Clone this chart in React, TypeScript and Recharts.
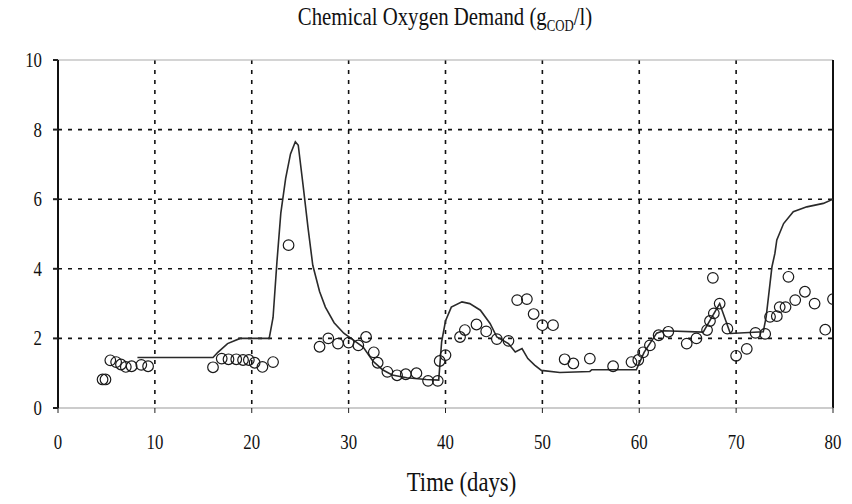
import React from "react";
import {
  ComposedChart,
  Line,
  Scatter,
  XAxis,
  YAxis,
  CartesianGrid,
  ReferenceLine,
} from "recharts";

// Measured COD in the effluent (days, g COD / l)
const measuredDays = [
  4.6, 4.9, 5.4, 6.0, 6.5, 7.0, 7.6, 8.6, 9.3,
  16.0, 16.9, 17.6, 18.4, 19.1, 19.7, 20.3, 21.1, 22.2,
  23.8,
  27.0, 27.9, 28.9, 30.0, 31.0, 31.8, 32.6, 33.0, 34.0, 35.0, 35.9, 37.0, 38.2, 39.2, 39.4, 40.0,
  41.5, 42.0, 43.2, 44.2, 45.3, 46.5, 47.4, 48.4, 49.1, 50.0, 51.1, 52.3, 53.2, 54.9, 57.3,
  59.2, 59.9, 60.4, 61.1, 62.0, 63.0, 64.9, 65.9, 67.0, 67.3, 67.7, 67.6, 68.3, 69.1,
  70.0, 71.1, 72.0, 73.0, 73.5, 74.2, 74.5, 75.1, 75.4, 76.1, 77.1, 78.1, 79.2, 80.0,
];
const measuredCOD = [
  0.82, 0.82, 1.37, 1.32, 1.25, 1.18, 1.2, 1.24, 1.2,
  1.17, 1.42, 1.4, 1.4, 1.38, 1.38, 1.3, 1.18, 1.32,
  4.68,
  1.76, 2.0, 1.85, 1.88, 1.8, 2.04, 1.6, 1.3, 1.04, 0.94, 0.97, 1.0, 0.78, 0.78, 1.35, 1.52,
  2.04, 2.24, 2.4, 2.2, 1.98, 1.93, 3.1, 3.13, 2.7, 2.38, 2.38, 1.4, 1.28, 1.42, 1.2,
  1.32, 1.38, 1.6, 1.8, 2.09, 2.19, 1.85, 2.0, 2.24, 2.5, 2.72, 3.74, 3.0, 2.28,
  1.5, 1.7, 2.16, 2.13, 2.62, 2.64, 2.9, 2.9, 3.77, 3.1, 3.34, 3.0, 2.25, 3.13,
];

// Simulated COD (model curve)
const modelDays = [
  8.2, 10, 16, 16.5, 17.5, 18.8, 21.8, 22.2, 22.6, 23.0, 23.5, 24.0, 24.5, 24.8, 25.3, 25.8,
  26.3, 27.0, 27.6, 28.5, 29.5, 30.5, 31.5, 32.5, 33.5, 34.5, 36, 38, 39.3, 39.6, 40.0, 40.6,
  41.7, 42.5, 43.6, 44.6, 45.3, 46.5, 47.2, 47.9, 48.5, 49.2, 49.9, 51.8, 54.9, 55.1, 59.7,
  60.5, 61.8, 62.5, 66.6, 68.3, 69.4, 72.8, 73.1, 73.3, 73.5, 73.7, 74.0, 74.2, 74.9, 75.9,
  77.3, 79.0, 80.0,
];
const modelCOD = [
  1.45, 1.45, 1.45, 1.6, 1.85, 2.0, 2.0, 2.6, 4.2, 5.6, 6.6, 7.3, 7.65, 7.55, 6.4, 5.2,
  4.1, 3.35, 2.9, 2.45, 2.15, 1.95, 1.75, 1.35, 1.1, 0.95, 0.87, 0.82, 0.8, 1.9, 2.5, 2.9,
  3.05, 3.0, 2.81, 2.43, 2.04, 1.85, 1.61, 1.71, 1.42, 1.23, 1.08, 1.02, 1.05, 1.1, 1.1,
  1.6, 2.15, 2.22, 2.18, 3.0, 2.14, 2.19, 2.62, 3.1, 3.58, 4.06, 4.44, 4.83, 5.3, 5.64,
  5.78, 5.88, 6.0,
];

const xTicks = [0, 10, 20, 30, 40, 50, 60, 70, 80];
const yTicks = [0, 2, 4, 6, 8, 10];
const gridX = [10, 20, 30, 40, 50, 60, 70];
const gridY = [2, 4, 6, 8];

const measured = measuredDays.map((d, i) => ({ day: d, cod: measuredCOD[i] }));
const model = modelDays.map((d, i) => ({ day: d, cod: modelCOD[i] }));

const serif = "Liberation Serif";
const SQUEEZE = 0.8;

const OpenCircle = (props: any) => {
  const { cx, cy } = props;
  if (cx == null || cy == null) return null;
  return <circle cx={cx} cy={cy} r={5.3} fill="none" stroke="#1a1a1a" strokeWidth={1.2} />;
};

// Tick labels in a narrow serif face
const XTick = (props: any) => {
  const { x, y, payload } = props;
  return (
    <text
      transform={`translate(${x},${y + 34}) scale(${SQUEEZE},1)`}
      textAnchor="middle"
      fontFamily={serif}
      fontSize={21}
      fill="#111"
    >
      {payload.value}
    </text>
  );
};

const YTick = (props: any) => {
  const { x, y, payload } = props;
  return (
    <text
      transform={`translate(${x - 9},${y + 7}) scale(${SQUEEZE},1)`}
      textAnchor="end"
      fontFamily={serif}
      fontSize={21}
      fill="#111"
    >
      {payload.value}
    </text>
  );
};

const AxisTitle = (props: any) => {
  const { viewBox } = props;
  const cx = viewBox.x + viewBox.width / 2 + 16;
  return (
    <text
      transform={`translate(${cx},${491}) scale(0.84,1)`}
      textAnchor="middle"
      fontFamily={serif}
      fontSize={27}
      fill="#111"
    >
      Time (days)
    </text>
  );
};

export default function App() {
  return (
    <div style={{ position: "absolute", left: 0, top: 0, width: 852, height: 504, background: "#fff" }}>
      <div
        style={{
          position: "absolute",
          left: 445,
          top: 2,
          transform: "translateX(-50%) scaleX(0.8)",
          whiteSpace: "nowrap",
          fontFamily: serif,
          fontSize: 26,
          color: "#111",
        }}
      >
        Chemical Oxygen Demand (g<sub style={{ fontSize: 16 }}>COD</sub>/l)
      </div>
      <ComposedChart
        width={852}
        height={504}
        margin={{ top: 60, right: 19, left: 0, bottom: 0 }}
        style={{ position: "absolute", left: 0, top: 0 }}
      >
        <CartesianGrid
          horizontalValues={gridY}
          verticalValues={gridX}
          stroke="#111"
          strokeWidth={1.6}
          strokeDasharray="4 6"
        />
        <XAxis
          type="number"
          dataKey="day"
          domain={[0, 80]}
          ticks={xTicks}
          allowDataOverflow
          height={96}
          stroke="#999"
          tickSize={5}
          tick={<XTick />}
          tickLine={{ stroke: "#222" }}
          label={<AxisTitle />}
        />
        <YAxis
          type="number"
          dataKey="cod"
          domain={[0, 10]}
          ticks={yTicks}
          allowDataOverflow
          width={58}
          stroke="#111"
          strokeWidth={2}
          tickSize={5}
          tick={<YTick />}
          tickLine={{ stroke: "#222" }}
        />
        <ReferenceLine y={10} stroke="#aaa" strokeWidth={1.2} />
        <ReferenceLine x={80} stroke="#111" strokeWidth={2} />
        <Line
          data={model}
          dataKey="cod"
          type="linear"
          stroke="#2a2a2a"
          strokeWidth={1.6}
          dot={false}
          isAnimationActive={false}
        />
        <Scatter data={measured} dataKey="cod" shape={OpenCircle} isAnimationActive={false} />
      </ComposedChart>
    </div>
  );
}
